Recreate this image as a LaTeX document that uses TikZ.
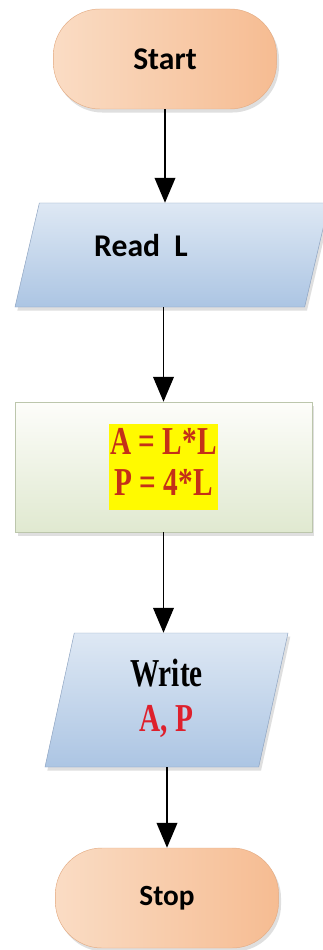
\documentclass[tikz,border=0pt]{standalone}
\usepackage{fontspec}
\setmainfont{Liberation Serif}
\newfontfamily\flowsans{Carlito}
\usepackage{graphicx}
\usepackage{tikz}
\usetikzlibrary{arrows.meta, shapes.geometric, shadows, positioning}

\definecolor{TermLight}{RGB}{250,220,196}
\definecolor{TermDark}{RGB}{246,188,146}
\definecolor{TermEdge}{RGB}{228,172,132}
\definecolor{IoLight}{RGB}{222,232,244}
\definecolor{IoDark}{RGB}{172,197,227}
\definecolor{IoEdge}{RGB}{140,162,192}
\definecolor{ProcLight}{RGB}{253,253,250}
\definecolor{ProcDark}{RGB}{224,233,208}
\definecolor{ProcEdge}{RGB}{188,198,172}
\definecolor{HiYellow}{RGB}{255,250,0}
\definecolor{FormulaRed}{RGB}{196,48,24}
\definecolor{OutRed}{RGB}{222,32,44}

\newcommand{\tallText}[1]{\scalebox{1}[1.35]{#1}}

\tikzset{
	flowshadow/.style={drop shadow={shadow xshift=2pt, shadow yshift=-3pt, opacity=0.25}},
	terminal/.style={rectangle, rounded corners=1.4cm, draw=TermEdge, thin,
		left color=TermLight, right color=TermDark, flowshadow,
		minimum width=6.7cm, minimum height=3cm,
		font=\flowsans\bfseries\fontsize{27pt}{30pt}\selectfont},
	iobox/.style={trapezium, trapezium stretches body, draw=IoEdge, thin,
		top color=IoLight, bottom color=IoDark, flowshadow, inner sep=0pt},
	procbox/.style={rectangle, draw=ProcEdge, thin,
		top color=ProcLight, bottom color=ProcDark, flowshadow,
		minimum width=8.9cm, minimum height=3.9cm},
	flowarrow/.style={draw=black, line width=1.6pt,
		-{Triangle[length=0.75cm, width=0.62cm]}},
}

\begin{document}
\begin{tikzpicture}
	\useasboundingbox[fill=white] (0,0) rectangle (9.66,-28.5);

	% terminals, input/output and process
	\node[terminal] (start) at (4.95,-1.77) {Start};
	\node[iobox, trapezium left angle=59, trapezium right angle=121,
		minimum width=9.42cm, minimum height=3.12cm, text depth=0.55cm,
		font=\flowsans\bfseries\fontsize{27pt}{30pt}\selectfont]
		(readL) at (5.16,-7.65) {Read~~L\hspace*{1.86cm}};
	\node[procbox, font=\bfseries\fontsize{25pt}{26pt}\selectfont, text=FormulaRed]
		(proc) at (4.905,-14.01)
		{\tallText{\setlength{\fboxsep}{1pt}\colorbox{HiYellow}{\begin{tabular}{@{}c@{}}A = L*L\\P = 4*L\end{tabular}}}};
	\node[iobox, trapezium left angle=72, trapezium right angle=108,
		minimum width=7.29cm, minimum height=4.02cm,
		font=\bfseries\fontsize{25pt}{28.5pt}\selectfont]
		(writeAP) at (4.995,-21.0)
		{\tallText{\begin{tabular}{@{}c@{}}Write\\\textcolor{OutRed}{A, P}\end{tabular}}};
	\node[terminal, font=\flowsans\bfseries\fontsize{25pt}{30pt}\selectfont] (stop) at (5.01,-26.94) {Stop};

	% flow
	\draw[flowarrow] (start.south) -- (start.south |- readL.north);
	\draw[flowarrow] (proc.north |- readL.south) -- (proc.north);
	\draw[flowarrow] (proc.south) -- (proc.south |- writeAP.north);
	\draw[flowarrow] (stop.north |- writeAP.south) -- (stop.north);
\end{tikzpicture}
\end{document}
